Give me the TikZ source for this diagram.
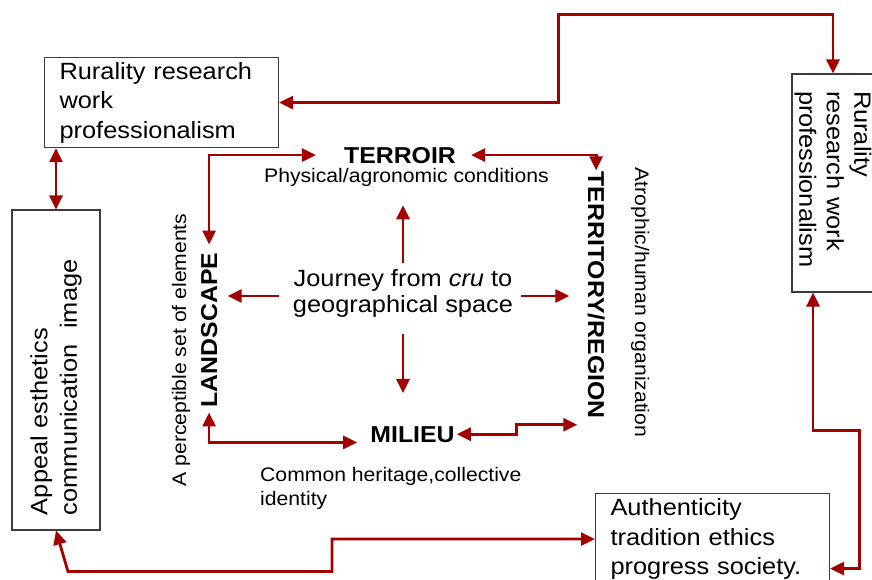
\documentclass[tikz,border=0pt]{standalone}
\usepackage{fontspec}
\setmainfont[FakeStretch=1.08]{Liberation Sans}
\usetikzlibrary{arrows.meta,calc}
\definecolor{linkred}{RGB}{163,0,0}
\definecolor{edgegray}{RGB}{60,60,60}
\begin{document}
\begin{tikzpicture}[x=1pt,y=-1pt,
  >={Triangle[length=14pt,width=13pt]},
  link/.style={draw=linkred, line width=2.8pt},
  box/.style={draw=edgegray, line width=1.1pt, align=left, inner ysep=0pt,
    font=\fontsize{23.5}{29.5}\selectfont},
  lbl/.style={inner sep=0pt, font=\fontsize{23}{28}\selectfont\bfseries},
  note/.style={inner sep=0pt, font=\fontsize{19.6}{24}\selectfont},
  centre/.style={inner sep=0pt, align=center, font=\fontsize{23.5}{26}\selectfont}]
\useasboundingbox (0,0) rectangle (872,579);

% framed boxes
\node[box, anchor=north west, minimum width=234pt, minimum height=90pt,
  inner xsep=15pt, text width=204pt] (boxA) at (44,57)
  {Rurality research\\work\\professionalism};
\node[box, rotate=-90, minimum width=218pt, minimum height=82pt,
  inner xsep=17pt, text width=184pt, font=\fontsize{23.5}{27.5}\selectfont] (boxB) at (833,183)
  {Rurality\\research work\\professionalism};
\node[box, rotate=90, minimum width=320pt, minimum height=88pt,
  inner xsep=15pt, text width=290pt] (boxC) at (56,370)
  {Appeal esthetics\\communication\ \ image};
\node[box, anchor=north west, minimum width=234pt, minimum height=91pt,
  inner xsep=15pt, text width=204pt] (boxD) at (595,493)
  {Authenticity\\tradition ethics\\progress society.};

% inner labels
\node[lbl, anchor=base] (terroir) at (400,163) {TERROIR};
\node[note, anchor=base] (phys) at (406.5,182) {Physical/agronomic conditions};
\node[lbl, rotate=90, anchor=base] (landscape) at (217,330) {LANDSCAPE};
\node[lbl, rotate=-90, anchor=base] (territory) at (588,295) {TERRITORY/REGION};
\node[lbl, anchor=base] (milieu) at (412.5,442) {MILIEU};
\node[centre] (journey) at (403,293.5) {Journey from \textit{cru} to\\geographical space};
\node[note, rotate=90, anchor=base] (percept) at (186,350) {A perceptible set of elements};
\node[note, rotate=-90, anchor=base] (atroph) at (635,302.5) {Atrophic/human organization};
\node[note, align=left, anchor=north west] (common) at (260,467.5)
  {Common heritage,collective\\identity};

% outer connectors
\draw[link,<->] ([xshift=12pt]boxA.south west) -- (boxC.east);
\draw[link,<->] (boxA.east) -- ++(279,0) |- ($(boxB.west)+(0,-59)$) -- (boxB.west);
\draw[link,<->] ($(boxB.east)+(-20,0)$) -- ++(0,138)
  -| ($(boxD.east)+(29,29.5)$) -- ($(boxD.east)+(0,29.5)$);
\draw[link,<->] (boxC.west) -- ++(12,41) -| ($(boxD.west)+(-263,0)$) -- (boxD.west);

% square of links between the four notions
\draw[link,<->] ($(terroir.west)+(-28,0)$) -| ($(landscape.east)+(0,-8)$);
\draw[link,<->] ($(terroir.east)+(15,0)$) -| ($(territory.west)+(0,-1)$);
\draw[link,<->] ($(landscape.west)+(0,5)$) |- ($(milieu.south west)+(-13,0)$);
\draw[link,<->] ($(milieu.east)+(2,0)$) -- ++(60,0) |- ($(territory.south east)+(-10,6)$);

% arrows out of the centre
\draw[link,->] ($(journey.north)+(0,-6)$) -- ($(journey.north |- phys.south)+(0,19)$);
\draw[link,->] ($(journey.west)+(-14,2.5)$) -- ($(landscape.north |- journey.west)+(27,2.5)$);
\draw[link,->] ($(journey.east)+(8,2.5)$) -- ($(territory.south |- journey.east)+(-18,2.5)$);
\draw[link,->] ($(journey.south)+(0,16)$) -- ($(journey.south |- milieu.north)+(0,-33)$);
\end{tikzpicture}
\end{document}
